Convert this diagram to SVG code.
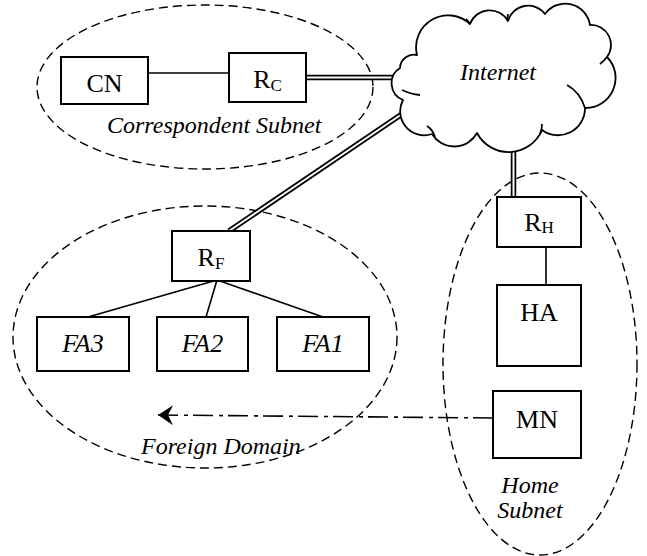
<svg xmlns="http://www.w3.org/2000/svg" width="647" height="556" viewBox="0 0 647 556">
  <style>
    .box { fill: #fff; stroke: #000; stroke-width: 2; }
    .zone { fill: none; stroke: #000; stroke-width: 1.4; stroke-dasharray: 9 5; }
    .lbl { font-family: "Liberation Serif", "Times New Roman", serif; font-size: 24px; fill: #000; }
    .node { font-size: 26px; }
    .it { font-style: italic; }
    .sub { font-size: 17px; }
    .line { stroke: #000; stroke-width: 1.6; fill: none; }
    .dbl-out { stroke: #000; stroke-width: 5.5; fill: none; }
    .dbl-in { stroke: #fff; stroke-width: 2; fill: none; }
    .cloud { fill: #fff; stroke: #000; stroke-width: 1.8; stroke-linejoin: round; }
    .stub { fill: none; stroke: #000; stroke-width: 1.8; }
  </style>
  <defs>
    <marker id="stealth" markerWidth="20" markerHeight="22" refX="16" refY="10" orient="auto" markerUnits="userSpaceOnUse">
      <path d="M16,10 L1,0 L6,10 L1,20 Z" fill="#000"/>
    </marker>
  </defs>

  <rect width="647" height="556" fill="#fff"/>

  <!-- zones -->
  <g id="correspondent-subnet">
    <ellipse class="zone" cx="205" cy="87" rx="168" ry="82"/>
    <text class="lbl it" x="107" y="133">Correspondent Subnet</text>
  </g>
  <g id="foreign-domain">
    <ellipse class="zone" cx="205" cy="337" rx="192" ry="131"/>
    <text class="lbl it" x="141" y="454">Foreign Domain</text>
  </g>
  <g id="home-subnet">
    <ellipse class="zone" cx="540" cy="364" rx="97" ry="191"/>
    <text class="lbl it" x="530" y="493" text-anchor="middle">Home</text>
    <text class="lbl it" x="530" y="518" text-anchor="middle">Subnet</text>
  </g>

  <!-- connectors -->
  <g id="connectors">
    <line class="line" x1="148" y1="73" x2="229" y2="73"/>
    <line class="dbl-out" x1="306" y1="77.5" x2="402" y2="77.5"/>
    <line class="dbl-in" x1="306" y1="77.5" x2="402" y2="77.5"/>
    <line class="dbl-out" x1="405" y1="112" x2="229" y2="231"/>
    <line class="dbl-in" x1="405" y1="112" x2="229" y2="231"/>
    <line class="dbl-out" x1="513.5" y1="148" x2="513.5" y2="198"/>
    <line class="dbl-in" x1="513.5" y1="148" x2="513.5" y2="198"/>
    <line class="line" x1="217" y1="280" x2="88" y2="317"/>
    <line class="line" x1="217" y1="280" x2="206" y2="317"/>
    <line class="line" x1="217" y1="280" x2="323" y2="317"/>
    <line class="line" x1="546" y1="247" x2="546" y2="285"/>
    <path class="line" d="M493,418 L158,415" stroke-dasharray="20 5 4 6" marker-end="url(#stealth)"/>
  </g>

  <!-- Internet cloud -->
  <g id="internet">
    <path class="cloud" d="M417,55 A32,32 0 0 1 470,24 A21,21 0 0 1 508,21 A21,21 0 0 1 545,14 A25,25 0 0 1 590,25 A20,20 0 0 1 607,57 A30,30 0 0 1 585,108 A27,27 0 0 1 542,130 A36,36 0 0 1 477,133 A26,26 0 0 1 432,134 A24,24 0 0 1 403,100 A18,18 0 0 1 400,68 A14,14 0 0 1 417,55 Z"/>
    <path class="stub" d="M402,90 Q410,94 420,95"/>
    <path class="stub" d="M427,126 Q433,130 435,137"/>
    <path class="stub" d="M567,85 Q580,92 585,108"/>
    <path class="stub" d="M542,124 Q542,130 540,134"/>
    <path class="stub" d="M607,57 Q604,61 600,64"/>
    <path class="stub" d="M508,21 Q507,17 508,14"/>
    <path class="stub" d="M470,24 Q468,21 466,19"/>
    <text class="lbl it" x="460" y="80">Internet</text>
  </g>

  <!-- nodes -->
  <g id="CN">
    <rect class="box" x="61" y="57" width="87" height="47"/>
    <text class="lbl node" x="104.5" y="92" text-anchor="middle">CN</text>
  </g>
  <g id="RC">
    <rect class="box" x="229" y="53" width="77" height="49"/>
    <text class="lbl node" x="267.5" y="88" text-anchor="middle">R<tspan class="sub" dy="3">C</tspan></text>
  </g>
  <g id="RF">
    <rect class="box" x="172" y="231" width="78" height="50"/>
    <text class="lbl node" x="211" y="266" text-anchor="middle">R<tspan class="sub" dy="3">F</tspan></text>
  </g>
  <g id="FA3">
    <rect class="box" x="37" y="317" width="92" height="54"/>
    <text class="lbl node it" x="83" y="352" text-anchor="middle">FA3</text>
  </g>
  <g id="FA2">
    <rect class="box" x="157" y="317" width="91" height="54"/>
    <text class="lbl node it" x="202.5" y="352" text-anchor="middle">FA2</text>
  </g>
  <g id="FA1">
    <rect class="box" x="277" y="317" width="92" height="54"/>
    <text class="lbl node it" x="323" y="352" text-anchor="middle">FA1</text>
  </g>
  <g id="RH">
    <rect class="box" x="497" y="197" width="84" height="50"/>
    <text class="lbl node" x="539" y="231" text-anchor="middle">R<tspan class="sub" dy="2">H</tspan></text>
  </g>
  <g id="HA">
    <rect class="box" x="497" y="285" width="84" height="81"/>
    <text class="lbl node" x="539" y="321" text-anchor="middle">HA</text>
  </g>
  <g id="MN">
    <rect class="box" x="493" y="391" width="88" height="67"/>
    <text class="lbl node" x="537" y="428" text-anchor="middle">MN</text>
  </g>
</svg>
